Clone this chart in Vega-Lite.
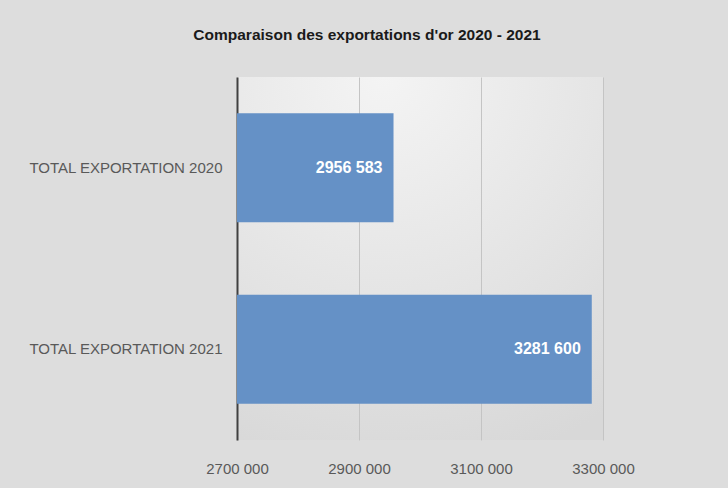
{
  "$schema": "https://vega.github.io/schema/vega-lite/v6.json",
  "width": 366,
  "height": 363,
  "autosize": {"type": "none"},
  "padding": {"left": 237, "top": 77, "right": 125, "bottom": 48},
  "background": "#dddddd",
  "title": {
    "text": "Comparaison des exportations d'or 2020 - 2021",
    "font": "Liberation Sans",
    "fontSize": 15.5,
    "fontWeight": "bold",
    "color": "#1a1a1a",
    "anchor": "middle",
    "dx": -53,
    "offset": 34
  },
  "data": {
    "values": [
      {"categorie": "TOTAL EXPORTATION 2020", "valeur": 2956583},
      {"categorie": "TOTAL EXPORTATION 2021", "valeur": 3281600}
    ]
  },
  "transform": [
    {"calculate": "floor(datum.valeur/1000) + ' ' + slice('00' + (datum.valeur % 1000), -3)", "as": "label"}
  ],
  "encoding": {
    "y": {
      "field": "categorie",
      "type": "nominal",
      "sort": null,
      "scale": {"paddingInner": 0.4, "paddingOuter": 0.2},
      "axis": {
        "title": null,
        "ticks": false,
        "domainColor": "#404040",
        "domainWidth": 2,
        "labelPadding": 15,
        "labelColor": "#595959",
        "labelFont": "Liberation Sans",
        "labelFontSize": 15,
        "labelLimit": 300
      }
    },
    "x": {
      "field": "valeur",
      "type": "quantitative",
      "scale": {"domain": [2700000, 3300000], "nice": false, "zero": false},
      "axis": {
        "title": null,
        "values": [2700000, 2900000, 3100000, 3300000],
        "domain": false,
        "ticks": false,
        "grid": true,
        "gridColor": "#c4c4c4",
        "gridWidth": 1,
        "labelPadding": 21,
        "labelFlush": false,
        "labelOverlap": false,
        "labelBound": false,
        "labelColor": "#595959",
        "labelFont": "Liberation Sans",
        "labelFontSize": 15,
        "labelExpr": "floor(datum.value/1000) + ' ' + slice('00' + (datum.value % 1000), -3)"
      }
    }
  },
  "layer": [
    {
      "mark": {"type": "bar", "color": "#6591c6"},
      "encoding": {"x2": {"datum": 2700000}}
    },
    {
      "mark": {
        "type": "text",
        "align": "right",
        "baseline": "middle",
        "dx": -11,
        "color": "white",
        "font": "Liberation Sans",
        "fontWeight": "bold",
        "fontSize": 16
      },
      "encoding": {"text": {"field": "label"}}
    }
  ],
  "config": {
    "view": {
      "stroke": null,
      "fill": {
        "gradient": "radial",
        "x1": 0.4, "y1": 0.0, "r1": 0,
        "x2": 0.4, "y2": 0.0, "r2": 1.1,
        "stops": [
          {"offset": 0, "color": "#f4f4f4"},
          {"offset": 1, "color": "#d8d8d8"}
        ]
      }
    }
  }
}
